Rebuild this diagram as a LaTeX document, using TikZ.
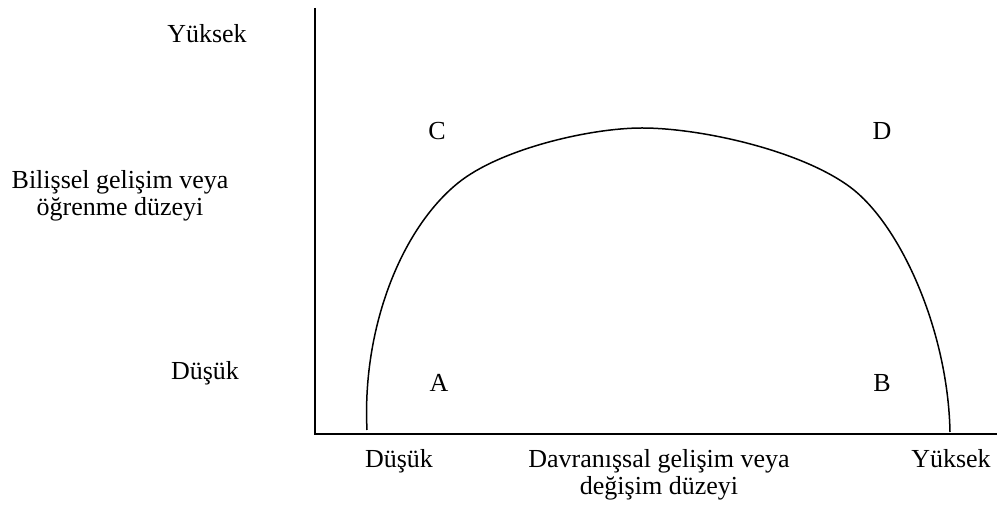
\documentclass[tikz,border=0pt]{standalone}
\usepackage{fontspec}
\setmainfont{Liberation Serif}
\usepackage{tikz}
\usetikzlibrary{positioning}

\begin{document}
\begin{tikzpicture}[
    x=0.5pt, y=-0.5pt,
    font=\fontsize{13}{13.5}\selectfont,
    lbl/.style={inner sep=0pt, anchor=base, align=center},
    axis/.style={line width=1pt},
    curve/.style={line width=0.75pt}
  ]
    \useasboundingbox (0,0) rectangle (997,506);
    % axes
    \coordinate (ytop) at (315,8);
    \coordinate (orig) at (315,434);
    \coordinate (xend) at (997,434);
    \draw[axis] (ytop) -- (orig) -- (xend);
    % y labels
    \node[lbl] (yhigh) at (207,43) {Yüksek};
    \node[lbl] (ytitle) at (120,216) {Bilişsel gelişim veya\\öğrenme düzeyi};
    \node[lbl] (ylow) at (205,380) {Düşük};
    % x labels
    \node[lbl] (xlow) at (399,468) {Düşük};
    \node[lbl] (xtitle) at (659,495) {Davranışsal gelişim veya\\değişim düzeyi};
    \node[lbl] (xhigh) at (951,468) {Yüksek};
    % quadrants
    \node[lbl] (qc) at (437,140) {C};
    \node[lbl] (qd) at (882,140) {D};
    \node[lbl] (qa) at (439,392) {A};
    \node[lbl] (qb) at (882,392) {B};
    % curve
    \coordinate (cstart) at (367,430);
    \coordinate (cleft) at (458,183);
    \coordinate (cpeak) at (642,128);
    \coordinate (cright) at (850,187);
    \coordinate (cend) at (950,432);
    \draw[curve] (cstart) .. controls (362,330) and (400,230) .. (cleft)
      .. controls (500,149) and (590,128) .. (cpeak)
      .. controls (700,128) and (800,150) .. (cright)
      .. controls (900,224) and (948,330) .. (cend);
\end{tikzpicture}
\end{document}
